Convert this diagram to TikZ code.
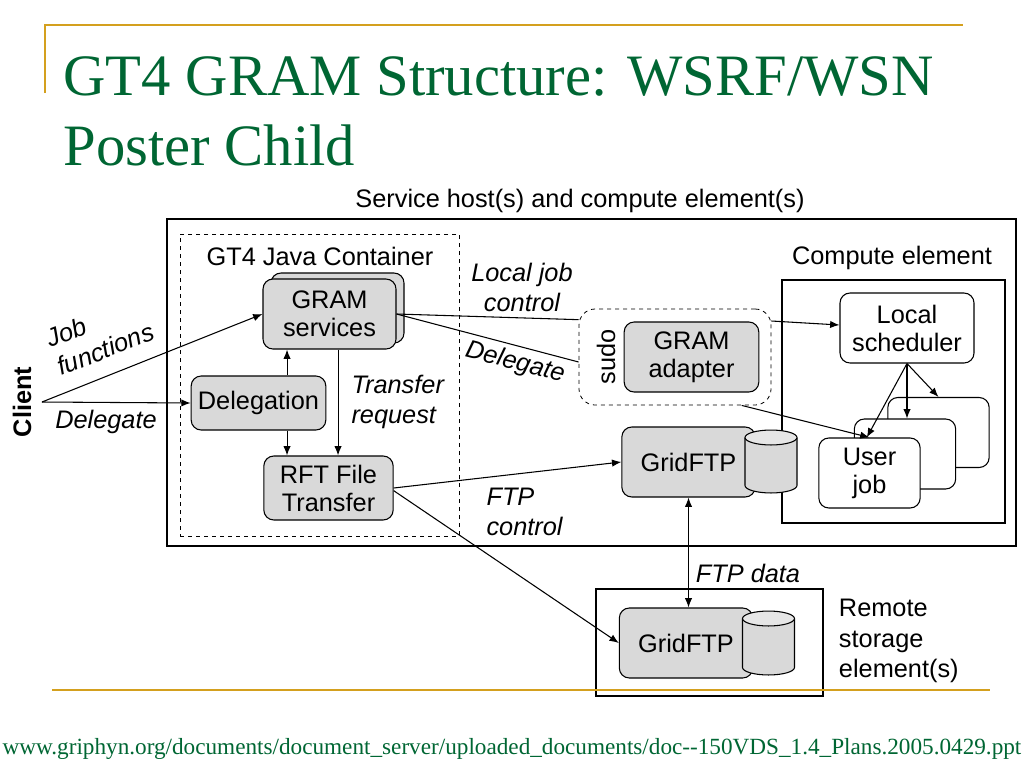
\documentclass[tikz,border=0pt]{standalone}
\usepackage{fontspec}
\setmainfont{Liberation Serif}
\setsansfont{Liberation Sans}
\newfontfamily\footfont{Liberation Serif}[Ligatures=TeXOff]
\usetikzlibrary{arrows.meta}
\definecolor{titlegreen}{RGB}{0,102,51}
\definecolor{rulegold}{RGB}{212,160,30}
\definecolor{boxgray}{RGB}{217,217,217}
\definecolor{diskgray}{RGB}{230,230,230}
\tikzset{
    svc/.style={draw, fill=boxgray, rounded corners=7.5pt, align=center, inner sep=0pt, minimum height=52.5pt},
    wjob/.style={draw, fill=white, rounded corners=7.5pt, align=center, inner sep=0pt, minimum height=52.5pt},
    area/.style={draw, inner sep=0pt, outer sep=0pt},
    lbl/.style={font=\sffamily\itshape\fontsize{19}{22.5}\selectfont, align=left, inner sep=0pt},
    arr/.style={-{Latex[length=7pt,width=5.5pt]}},
}
% storage drum: centre x, top ellipse y, bottom ellipse y
\newcommand{\drumat}[3]{%
    \draw[fill=boxgray] (#1-26,#2) -- (#1-26,#3)
        arc[start angle=180, end angle=360, x radius=19.5pt, y radius=5.6pt] -- (#1+26,#2);
    \draw[fill=diskgray] (#1,#2) ellipse [x radius=19.5pt, y radius=5.6pt];
}
\begin{document}
\begin{tikzpicture}[x=0.75pt, y=-0.75pt, line width=0.8pt, font=\sffamily\fontsize{19}{21}\selectfont]
    \useasboundingbox (0,0) rectangle (1024,768);
    % slide frame
    \draw[rulegold, line width=2.2pt] (45,93) -- (45,25) -- (963,25);
    \node[anchor=base west, inner sep=0pt, text=titlegreen, font=\rmfamily\fontsize{44}{52}\selectfont] (title1) at (63,95) {GT4 GRAM Structure: WSRF/WSN};
    \node[anchor=base west, inner sep=0pt, text=titlegreen, font=\rmfamily\fontsize{44}{52}\selectfont] (title2) at (63,165) {Poster Child};

    % containers
    \node[area, minimum width=636.75pt, minimum height=245.25pt] (host) at (591.5,382.5) {};
    \node[area, dashed, line width=0.6pt, minimum width=209.25pt, minimum height=226.5pt] (java) at (319.5,385) {};
    \node[area, minimum width=167.25pt, minimum height=182.25pt] (comp) at (893.5,401.5) {};
    \node[area, minimum width=170.25pt, minimum height=80.25pt] (remote) at (709.5,642.5) {};
    \node (hostlbl) at (580,201) {Service host(s) and compute element(s)};
    \node (javalbl) at (320,256) {GT4 Java Container};
    \node (complbl) at (892,258) {Compute element};
    \node[anchor=west, align=left, font=\sffamily\fontsize{19}{23}\selectfont] (remotelbl) at (834,641) {Remote\\storage\\element(s)};

    % services in the container
    \node[svc, minimum width=99.75pt] (gramback) at (337.5,308) {};
    \node[svc, minimum width=99.75pt] (gram) at (329.5,314) {GRAM\\services};
    \node[svc, minimum width=101pt, minimum height=40.5pt] (deleg) at (258.5,403) {Delegation};
    \node[svc, minimum width=97pt, minimum height=48pt] (rft) at (328.5,488) {RFT File\\Transfer};

    % sudo and adapter
    \node[draw, dashed, line width=0.6pt, rounded corners=12pt, minimum width=144pt, minimum height=72pt] (sudo) at (675,357) {};
    \node[rotate=90] (sudolbl) at (606,357) {sudo};
    \node[svc, minimum width=101pt] (adapter) at (691.5,357) {GRAM\\adapter};

    % compute element
    \node[wjob, minimum width=100.5pt] (sched) at (907,328) {Local\\scheduler};
    \node[wjob, minimum width=76pt] (job3) at (938.5,432.5) {};
    \node[wjob, minimum width=76pt] (job2) at (905,454) {};
    \node[wjob, minimum width=76pt] (job1) at (869.5,473) {User\\job};

    % gridftp servers
    \node[svc, minimum width=100pt] (gftp) at (688.5,462) {GridFTP};
    \drumat{771}{437.5}{485.5}
    \node[svc, minimum width=100pt] (gftpr) at (686,643) {GridFTP};
    \drumat{768.5}{618.5}{667.5}

    % client side
    \node[rotate=90, font=\sffamily\bfseries\fontsize{19}{21}\selectfont] (client) at (22,402) {Client};
    \coordinate (cl) at (42,402);
    \draw[arr] (cl) -- (gram.west);
    \draw[arr] (cl) -- (deleg.west);
    \node[lbl, rotate=21] (jobfn) at (100,335) {Job\\functions};
    \node[lbl] (delg1) at (106,422) {Delegate};

    % inside the container
    \draw[arr] ([xshift=21.4pt]deleg.north) -- ([xshift=21.4pt]deleg.north |- gram.south);
    \draw[arr] ([xshift=21.4pt]deleg.south) -- ([xshift=21.4pt]deleg.south |- rft.north);
    \draw[arr] ([xshift=6.4pt]gram.south) -- ([xshift=6.4pt]gram.south |- rft.north);
    \node[lbl, anchor=west] (xfer) at (351,402) {Transfer\\request};

    % job control
    \draw (gram.east) -- ([yshift=28pt]sudo.west);
    \draw (gram.east) -- ([yshift=-3.75pt]sudo.west);
    \node[lbl, align=center] (ljc) at (522,287) {Local job\\control};
    \node[lbl, rotate=-14.4] (delg2) at (515,363) {Delegate};
    \draw[arr] ([yshift=27pt]sudo.east) -- ([yshift=2.25pt]sched.west);
    \draw[arr] ([xshift=50pt]sudo.south) -- (job1.north);
    \draw[arr] (sched.south) -- ([xshift=-2pt]job1.north);
    \draw[arr] (sched.south) -- (sched.south |- job2.north);
    \draw[arr] (sched.south) -- (job3.north);

    % file transfer
    \draw[arr] (rft.east) -- (gftp.west);
    \draw[arr] ([yshift=-2pt]rft.east) -- (gftpr.west);
    \node[lbl, anchor=west] (ftpc) at (486,512) {FTP\\control};
    \draw[{Latex[length=7pt,width=5.5pt]}-{Latex[length=7pt,width=5.5pt]}] (gftp.south) -- (gftp.south |- gftpr.north);
    \node[lbl] (ftpd) at (748,573) {FTP data};

    % bottom rule and source
    \draw[rulegold, line width=2.2pt] (52,690) -- (990,690);
    \node[anchor=base, inner sep=0pt, text=titlegreen, font=\footfont\fontsize{17.4}{20}\selectfont] (src) at (512,754) {www.griphyn.org/documents/document\_server/uploaded\_documents/doc--150VDS\_1.4\_Plans.2005.0429.ppt};
\end{tikzpicture}
\end{document}
